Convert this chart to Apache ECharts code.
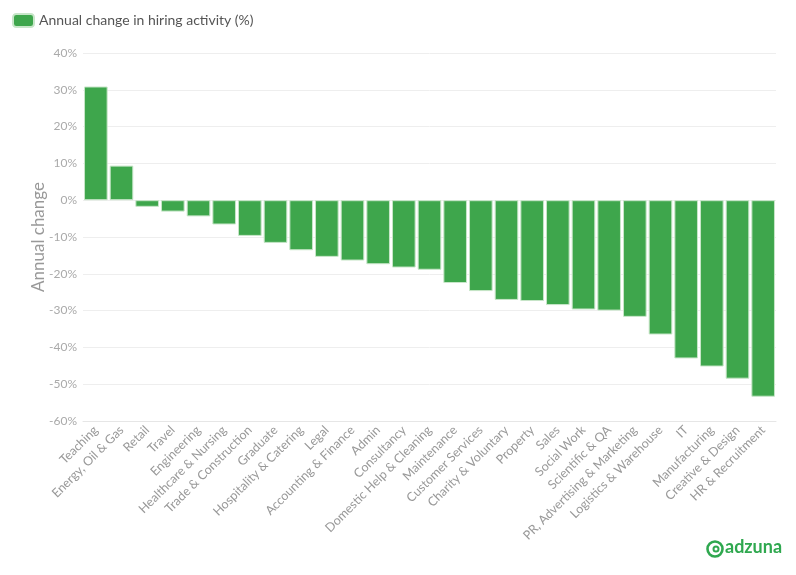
<!DOCTYPE html>
<html><head><meta charset="utf-8">
<script src="https://cdn.jsdelivr.net/npm/echarts@6/dist/echarts.min.js"></script>
<style>html,body{margin:0;padding:0;background:#fff}#c{width:796px;height:575px}</style>
</head><body><div id="c"></div>
<script>
const categories = ["Teaching","Energy, Oil & Gas","Retail","Travel","Engineering","Healthcare & Nursing","Trade & Construction","Graduate","Hospitality & Catering","Legal","Accounting & Finance","Admin","Consultancy","Domestic Help & Cleaning","Maintenance","Customer Services","Charity & Voluntary","Property","Sales","Social Work","Scientific & QA","PR, Advertising & Marketing","Logistics & Warehouse","IT","Manufacturing","Creative & Design","HR & Recruitment"];
const values = [30.9,9.4,-1.8,-3.1,-4.4,-6.6,-9.7,-11.6,-13.6,-15.4,-16.4,-17.4,-18.3,-18.9,-22.5,-24.7,-27.1,-27.4,-28.5,-29.7,-30.0,-31.7,-36.5,-43.0,-45.2,-48.5,-53.4];
const seriesName = "Annual change in hiring activity (%)";
const yTitle = "Annual change";
const chart = echarts.init(document.getElementById('c'));
const F = 'Lato, "Open Sans", sans-serif';
chart.setOption({
  animation:false,
  textStyle:{fontFamily:F},
  legend:{left:7,top:8,itemWidth:21,itemHeight:13,itemGap:5,
    icon:'roundRect',
    textStyle:{fontFamily:F,fontSize:14,color:'#555'},
    data:[seriesName]},
  grid:{left:83,right:20,top:53,bottom:154},
  xAxis:{type:'category',data:categories,
    axisLine:{onZero:false,lineStyle:{color:'#e6e6e6'}},
    axisTick:{alignWithLabel:true,length:5,lineStyle:{color:'#e6e6e6'}},
    axisLabel:{rotate:45,interval:0,margin:7,fontFamily:F,fontSize:12.5,color:'#999'}},
  yAxis:{type:'value',min:-60,max:40,interval:10,
    name:yTitle,nameLocation:'middle',nameGap:36,nameMoveOverlap:false,
    nameTextStyle:{fontFamily:F,fontSize:17,color:'#999'},
    axisLine:{show:false},axisTick:{show:false},
    axisLabel:{formatter:'{value}%',fontFamily:F,fontSize:12,color:'#aaa',margin:6},
    splitLine:{lineStyle:{color:'#eeeeee'}}},
  series:[{name:seriesName,type:'bar',data:values,barCategoryGap:'8%',
    itemStyle:{color:'#3ea64c',borderColor:'#c8e6c9',borderWidth:1}}],
  graphic:[
    {type:'circle',shape:{cx:715,cy:549,r:7.5},style:{fill:'none',stroke:'#2fa84f',lineWidth:2.6}},
    {type:'circle',shape:{cx:716,cy:549,r:2.5},style:{fill:'none',stroke:'#2fa84f',lineWidth:2}},
    {type:'text',left:725,top:538,style:{text:'adzuna',fill:'#2fa84f',font:'bold 18px '+F}}
  ]
});
</script></body></html>
